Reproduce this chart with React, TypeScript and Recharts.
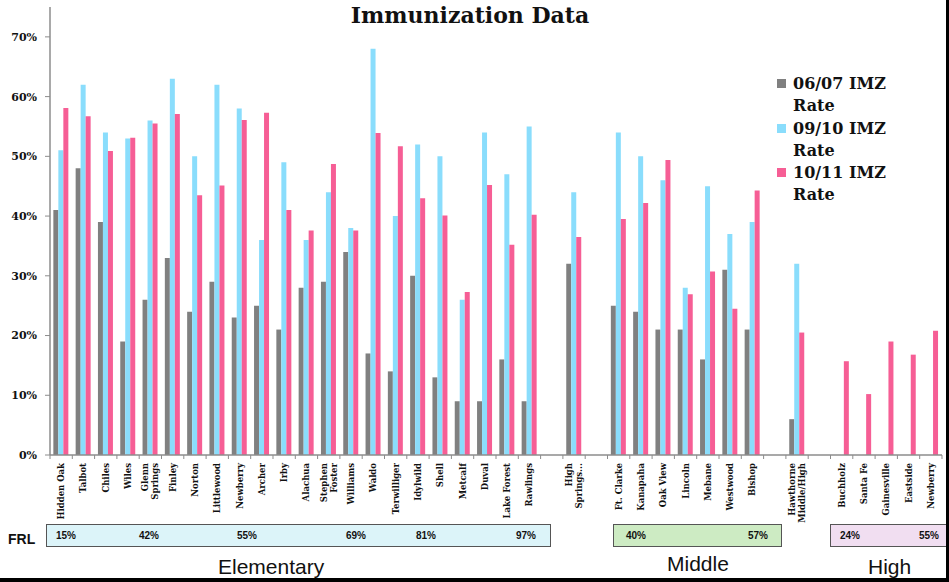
import React from 'react';
import { BarChart, Bar, XAxis, YAxis } from 'recharts';

const schools = [
  'Hidden Oak', 'Talbot', 'Chiles', 'Wiles', 'Glenn\nSprings', 'Finley', 'Norton', 'Littlewood',
  'Newberry', 'Archer', 'Irby', 'Alachua', 'Stephen\nFoster', 'Williams', 'Waldo', 'Terwilliger',
  'Idylwild', 'Shell', 'Metcalf', 'Duval', 'Lake Forest', 'Rawlings', '', 'High\nSprings...', '',
  'Ft. Clarke', 'Kanapaha', 'Oak View', 'Lincoln', 'Mebane', 'Westwood', 'Bishop', '',
  'Hawthorne\nMiddle/High', '', 'Buchholz', 'Santa Fe', 'Gainesville', 'Eastside', 'Newberry',
];

const rate0607 = [
  41, 48, 39, 19, 26, 33, 24, 29, 23, 25, 21, 28, 29, 34, 17, 14, 30, 13, 9, 9, 16, 9,
  null, 32, null, 25, 24, 21, 21, 16, 31, 21, null, 6, null, null, null, null, null, null,
];

const rate0910 = [
  51, 62, 54, 53, 56, 63, 50, 62, 58, 36, 49, 36, 44, 38, 68, 40, 52, 50, 26, 54, 47, 55,
  null, 44, null, 54, 50, 46, 28, 45, 37, 39, null, 32, null, null, null, null, null, null,
];

const rate1011 = [
  58.1, 56.7, 50.9, 53.1, 55.5, 57.1, 43.5, 45.1, 56.1, 57.3, 41, 37.6, 48.7, 37.6, 53.9, 51.7,
  43, 40.1, 27.3, 45.2, 35.2, 40.2, null, 36.5, null, 39.5, 42.2, 49.4, 26.9, 30.7, 24.5, 44.3,
  null, 20.5, null, 15.7, 10.2, 19, 16.8, 20.8,
];

const yTicks = [0, 10, 20, 30, 40, 50, 60, 70];

const frlElementary = ['15%', '42%', '55%', '69%', '81%', '97%'];
const frlMiddle = ['40%', '57%'];
const frlHigh = ['24%', '55%'];

const series = [
  { key: 'r0607', lines: ['06/07 IMZ', 'Rate'], color: '#808080' },
  { key: 'r0910', lines: ['09/10 IMZ', 'Rate'], color: '#8ADDFC' },
  { key: 'r1011', lines: ['10/11 IMZ', 'Rate'], color: '#F65E95' },
];

const data = schools.map((name, i) => ({
  name,
  r0607: rate0607[i],
  r0910: rate0910[i],
  r1011: rate1011[i],
}));

const SERIF = '"DejaVu Serif", serif';
const SANS = '"Liberation Sans", Arial, sans-serif';
const AXIS = '#8c8c8c';

const SchoolTick = (props: any) => {
  const { x, y, payload, index, visibleTicksCount } = props;
  const half = payload && typeof payload.offset === 'number' ? payload.offset : 11.15;
  const lines = String(payload.value).split('\n');
  const isLast = index === visibleTicksCount - 1;
  return (
    <g transform={`translate(${x},${y})`}>
      <line x1={-half} y1={0} x2={-half} y2={4} stroke={AXIS} />
      {isLast && <line x1={half} y1={0} x2={half} y2={4} stroke={AXIS} />}
      <text
        transform="rotate(-90)"
        textAnchor="end"
        fontFamily={SERIF}
        fontWeight="bold"
        fontSize={8.5}
        fill="#111"
      >
        {lines.map((ln, i) => (
          <tspan key={i} x={-8} y={(i - (lines.length - 1) / 2) * 10} dy="0.35em">
            {ln}
          </tspan>
        ))}
      </text>
    </g>
  );
};

const FrlBox = ({ left, width, fill, labels, offsets }: any) => (
  <div
    style={{
      position: 'absolute', left, top: 524, width, height: 23, boxSizing: 'border-box',
      background: fill, border: '1px solid #555',
    }}
  >
    {labels.map((l: string, i: number) => (
      <span
        key={i}
        style={{
          position: 'absolute', left: offsets[i], top: 5, fontFamily: SANS,
          fontWeight: 'bold', fontSize: 10, color: '#111',
        }}
      >
        {l}
      </span>
    ))}
  </div>
);

export default function App() {
  return (
    <div style={{ position: 'absolute', left: 0, top: 0, width: 949, height: 582, background: '#fff', overflow: 'hidden' }}>
      <div
        style={{
          position: 'absolute', left: 0, width: 940, top: 2, textAlign: 'center',
          fontFamily: SERIF, fontWeight: 'bold', fontSize: 22, color: '#111',
        }}
      >
        Immunization Data
      </div>

      <BarChart
        width={949}
        height={582}
        data={data}
        margin={{ top: 7, right: 7, left: 0, bottom: 57 }}
        barCategoryGap="15%"
        barGap={0}
      >
        <XAxis
          dataKey="name"
          interval={0}
          height={70}
          tickLine={false}
          tickSize={0}
          tickMargin={0}
          axisLine={{ stroke: AXIS, strokeWidth: 1.5 }}
          tick={<SchoolTick />}
        />
        <YAxis
          width={50}
          domain={[0, 75]}
          ticks={yTicks}
          tickFormatter={(v: number) => `${v}%`}
          tickSize={5}
          tickMargin={8}
          axisLine={{ stroke: AXIS, strokeWidth: 1.5 }}
          tickLine={{ stroke: AXIS }}
          tick={{ fontFamily: SERIF, fontWeight: 'bold', fontSize: 11, fill: '#111' }}
        />
        {series.map((s) => (
          <Bar key={s.key} dataKey={s.key} fill={s.color} isAnimationActive={false} />
        ))}
      </BarChart>

      <div style={{ position: 'absolute', left: 777, top: 73, fontFamily: SERIF, fontWeight: 'bold', fontSize: 16, lineHeight: '22.3px', color: '#111' }}>
        {series.map((s) => (
          <div key={s.key} style={{ display: 'flex', alignItems: 'flex-start' }}>
            <div style={{ width: 9, height: 9, background: s.color, marginTop: 6, marginRight: 7 }} />
            <div>
              {s.lines.map((ln) => (
                <div key={ln}>{ln}</div>
              ))}
            </div>
          </div>
        ))}
      </div>

      <div style={{ position: 'absolute', left: 8, top: 531, fontFamily: SANS, fontWeight: 'bold', fontSize: 14, color: '#111' }}>FRL</div>
      <FrlBox left={46} width={505} fill="#DCF4F9" labels={frlElementary} offsets={[9, 92, 190, 299, 369, 469]} />
      <FrlBox left={613} width={169} fill="#CDEBC3" labels={frlMiddle} offsets={[12, 134]} />
      <FrlBox left={830} width={125} fill="#F1DEF1" labels={frlHigh} offsets={[9, 88]} />

      <div style={{ position: 'absolute', left: 218, top: 555, fontFamily: SANS, fontSize: 21, color: '#111' }}>Elementary</div>
      <div style={{ position: 'absolute', left: 667, top: 552, fontFamily: SANS, fontSize: 21, color: '#111' }}>Middle</div>
      <div style={{ position: 'absolute', left: 868, top: 555, fontFamily: SANS, fontSize: 21, color: '#111' }}>High</div>

      <div style={{ position: 'absolute', left: 946, top: 0, width: 3, height: 582, background: '#000' }} />
      <div style={{ position: 'absolute', left: 0, top: 578, width: 949, height: 4, background: '#000' }} />
    </div>
  );
}
